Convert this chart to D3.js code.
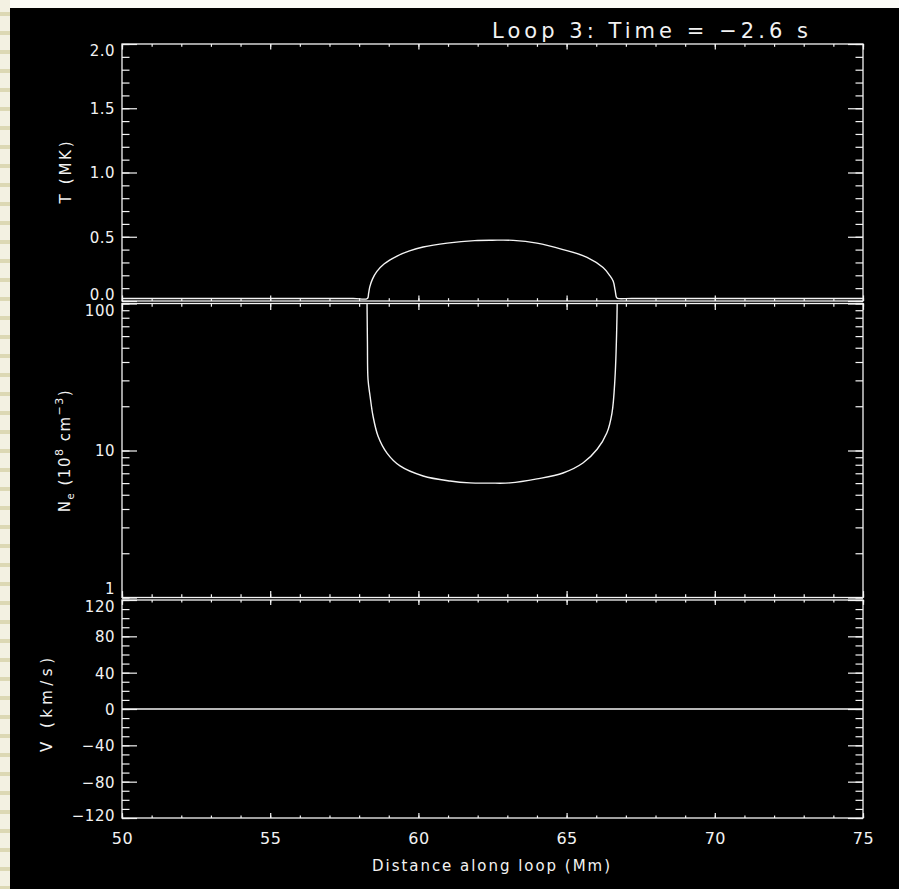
<!DOCTYPE html>
<html><head><meta charset="utf-8">
<script src="https://cdn.jsdelivr.net/npm/d3@7"></script>
<style>
html,body{margin:0;padding:0;background:#000;}
svg{display:block;}
text{font-family:"DejaVu Sans","Liberation Sans",sans-serif;fill:#f2f2f2;}
</style>
</head><body>
<svg id="chart" width="899" height="889"></svg>
<script>
// ---- data ----
const distanceT = [50, 53, 56, 57.8, 58.28, 58.32, 58.36, 58.45, 58.6, 58.85, 59.28, 59.7, 60.16, 60.97, 61.9, 62.5, 63.2, 64.0, 64.88, 65.69, 66.23, 66.45, 66.57, 66.64, 66.68, 66.72, 67.2, 69, 72, 75];
const temperatureMK = [0.02, 0.02, 0.02, 0.02, 0.02, 0.06, 0.11, 0.17, 0.23, 0.29, 0.35, 0.39, 0.42, 0.45, 0.47, 0.473, 0.472, 0.45, 0.40, 0.34, 0.26, 0.2, 0.155, 0.08, 0.03, 0.02, 0.02, 0.02, 0.02, 0.02];
const distanceN = [58.26, 58.28, 58.30, 58.37, 58.47, 58.64, 58.94, 59.38, 60.16, 61.07, 61.74, 62.4, 63.09, 64.0, 64.88, 65.55, 66.03, 66.36, 66.53, 66.63, 66.70, 66.71];
const densityE8 = [150, 55, 30.5, 23.4, 17.1, 12.5, 9.6, 7.85, 6.71, 6.2, 6.02, 6.0, 6.02, 6.41, 7.03, 8.22, 10.2, 13.2, 17.9, 30.5, 81.6, 150];
const distanceV = [50, 75];
const velocityKms = [0, 0];

const xTicks = [50, 55, 60, 65, 70, 75];
const xTickLabels = ["50", "55", "60", "65", "70", "75"];
const tTicks = [0, 0.5, 1.0, 1.5, 2.0];
const tTickLabels = ["0.0", "0.5", "1.0", "1.5", "2.0"];
const nTicks = [1, 10, 100];
const nTickLabels = ["1", "10", "100"];
const vTicks = [-120, -80, -40, 0, 40, 80, 120];
const vTickLabels = ["\u2212120", "\u221280", "\u221240", "0", "40", "80", "120"];

const titleText = "Loop 3: Time = \u22122.6 s";
const xTitle = "Distance along loop (Mm)";

// ---- layout ----
const svg = d3.select("#chart");
const L = 122, R = 863;
const panels = {
  T: {top: 44, bottom: 301},
  N: {top: 303.5, bottom: 597.5},
  V: {top: 600, bottom: 818}
};

// background decoration: white top strip, cream striped left strip
svg.append("rect").attr("x",0).attr("y",0).attr("width",899).attr("height",889).attr("fill","#000");
svg.append("rect").attr("x",0).attr("y",0).attr("width",899).attr("height",8).attr("fill","#fbfbf6");
const defs = svg.append("defs");
const pat = defs.append("pattern").attr("id","stripes").attr("patternUnits","userSpaceOnUse")
  .attr("width",10).attr("height",19);
pat.append("rect").attr("width",10).attr("height",19).attr("fill","#f3f1e2");
pat.append("rect").attr("y",12).attr("width",10).attr("height",4).attr("fill","#dcd8b4");
svg.append("rect").attr("x",0).attr("y",0).attr("width",10).attr("height",889).attr("fill","url(#stripes)");

const x = d3.scaleLinear().domain([50, 75]).range([L, R]);
const yT = d3.scaleLinear().domain([0, 2]).range([panels.T.bottom, panels.T.top]);
const yN = d3.scaleLog().domain([1, 100]).range([panels.N.bottom, panels.N.top]);
const yV = d3.scaleLinear().domain([-120, 120]).range([panels.V.bottom, panels.V.top]);

const STROKE = "#f4f4f4";
const YMAJ = 15, YMIN = 7.5;

function styleAxis(g) {
  g.select(".domain").remove();
  g.selectAll("line").attr("stroke", STROKE).attr("stroke-width", 1.2);
  g.selectAll("text").attr("fill", "#f2f2f2").attr("font-family", "DejaVu Sans, Liberation Sans, sans-serif");
}

// label nudges keep the end labels inside the axis range (as the reference does)
function drawPanel(key, y, majors, majorLabels, minors, showXLabels, topShift, botShift) {
  const p = panels[key];
  const h = p.bottom - p.top;
  const xMaj = Math.round(h * 0.02 * 10) / 10 + 0.5;
  const xMin = xMaj / 2;
  const g = svg.append("g");

  // left axis
  g.append("g").attr("transform", `translate(${L},0)`)
    .call(d3.axisLeft(y).tickValues(minors).tickSize(-YMIN).tickFormat("")).call(styleAxis);
  const la = g.append("g").attr("transform", `translate(${L},0)`)
    .call(d3.axisLeft(y).tickValues(majors).tickSize(-YMAJ).tickPadding(7)
      .tickFormat((d, i) => majorLabels[i])).call(styleAxis);
  const n = majors.length;
  la.selectAll("text").attr("font-size", 15).attr("letter-spacing", 0.5)
    .attr("dy", "0.36em")
    .attr("y", (d, i) => i === 0 ? -botShift : (i === n - 1 ? topShift : 0));

  // right axis
  g.append("g").attr("transform", `translate(${R},0)`)
    .call(d3.axisRight(y).tickValues(minors).tickSize(-YMIN).tickFormat("")).call(styleAxis);
  g.append("g").attr("transform", `translate(${R},0)`)
    .call(d3.axisRight(y).tickValues(majors).tickSize(-YMAJ).tickFormat("")).call(styleAxis);

  // top axis
  g.append("g").attr("transform", `translate(0,${p.top})`)
    .call(d3.axisTop(x).ticks(25).tickSize(-xMin).tickFormat("")).call(styleAxis);
  g.append("g").attr("transform", `translate(0,${p.top})`)
    .call(d3.axisTop(x).tickValues(xTicks).tickSize(-xMaj).tickFormat("")).call(styleAxis);

  // bottom axis
  g.append("g").attr("transform", `translate(0,${p.bottom})`)
    .call(d3.axisBottom(x).ticks(25).tickSize(-xMin).tickFormat("")).call(styleAxis);
  const ba = g.append("g").attr("transform", `translate(0,${p.bottom})`)
    .call(d3.axisBottom(x).tickValues(xTicks).tickSize(-xMaj).tickPadding(15)
      .tickFormat((d, i) => showXLabels ? xTickLabels[i] : "")).call(styleAxis);
  ba.selectAll("text").attr("font-size", 16).attr("letter-spacing", 0.5);

  // frame
  g.append("rect").attr("x", L).attr("y", p.top).attr("width", R - L).attr("height", h)
    .attr("fill", "none").attr("stroke", STROKE).attr("stroke-width", 1.3);

  // clip
  defs.append("clipPath").attr("id", "clip" + key).append("rect")
    .attr("x", L).attr("y", p.top).attr("width", R - L).attr("height", h);
  return g;
}

drawPanel("T", yT, tTicks, tTickLabels, yT.ticks(20), false, 6, 7);
drawPanel("N", yN, nTicks, nTickLabels, yN.ticks(), false, 7, 9);
drawPanel("V", yV, vTicks, vTickLabels, yV.ticks(24), true, 6, 3);

// data lines
const curve = d3.curveCatmullRom.alpha(0.5);
svg.append("path")
  .datum(distanceT.map((d, i) => [d, temperatureMK[i]]))
  .attr("clip-path", "url(#clipT)")
  .attr("fill", "none").attr("stroke", STROKE).attr("stroke-width", 1.4)
  .attr("d", d3.line().x(d => x(d[0])).y(d => yT(d[1])).curve(curve));
svg.append("path")
  .datum(distanceN.map((d, i) => [d, densityE8[i]]))
  .attr("clip-path", "url(#clipN)")
  .attr("fill", "none").attr("stroke", STROKE).attr("stroke-width", 1.4)
  .attr("d", d3.line().x(d => x(d[0])).y(d => yN(d[1])).curve(curve));
svg.append("path")
  .datum(distanceV.map((d, i) => [d, velocityKms[i]]))
  .attr("clip-path", "url(#clipV)")
  .attr("fill", "none").attr("stroke", STROKE).attr("stroke-width", 1.4)
  .attr("d", d3.line().x(d => x(d[0])).y(d => yV(d[1])));

// titles
svg.append("text").attr("x", 492).attr("y", 38).attr("font-size", 21)
  .attr("textLength", 316).attr("lengthAdjust", "spacing").text(titleText);
svg.append("text").attr("x", 372).attr("y", 871).attr("font-size", 15)
  .attr("textLength", 238).attr("lengthAdjust", "spacing").text(xTitle);

svg.append("text").attr("transform", `translate(71,${(panels.T.top + panels.T.bottom) / 2}) rotate(-90)`)
  .attr("text-anchor", "middle").attr("font-size", 15).attr("textLength", 62).attr("lengthAdjust", "spacing")
  .text("T (MK)");

const nt = svg.append("text").attr("transform", `translate(70,${(panels.N.top + panels.N.bottom) / 2}) rotate(-90)`)
  .attr("text-anchor", "middle").attr("font-size", 15).attr("letter-spacing", 1.5);
nt.append("tspan").text("N");
nt.append("tspan").attr("font-size", 10).attr("dy", 4).text("e");
nt.append("tspan").attr("dy", -4).text(" (10");
nt.append("tspan").attr("font-size", 11).attr("dy", -7).text("8");
nt.append("tspan").attr("dy", 7).text(" cm");
nt.append("tspan").attr("font-size", 11).attr("dy", -7).text("\u22123");
nt.append("tspan").attr("dy", 7).text(")");

svg.append("text").attr("transform", `translate(52,${(panels.V.top + panels.V.bottom) / 2 - 4}) rotate(-90)`)
  .attr("text-anchor", "middle").attr("font-size", 15).attr("textLength", 94).attr("lengthAdjust", "spacing")
  .text("V (km/s)");
</script>
</body></html>
